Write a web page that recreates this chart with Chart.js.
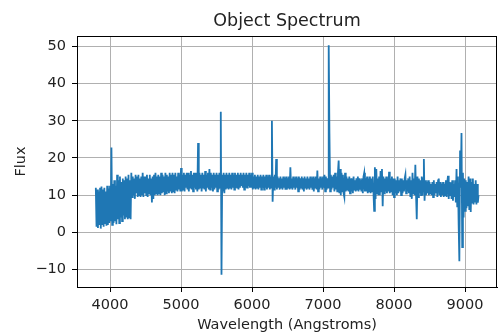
<!DOCTYPE html>
<html>
<head>
<meta charset="utf-8">
<script src="https://cdn.jsdelivr.net/npm/chart.js@4.4.1/dist/chart.umd.min.js"></script>
<style>
  html, body { margin: 0; padding: 0; background: #fff; }
  #wrap { width: 499px; height: 336px; }
</style>
</head>
<body>
<div id="wrap"><canvas id="spec" width="499" height="336"></canvas></div>
<script>
// wavelength grid (Angstroms): 3800, 3810, ... 9190
const waveStart = 3800;
const waveStep = 10;

// flux, one row per 100 Angstroms
const flux = [
  12, 1.5, 11.5, 1.2, 11, 2, 12, 1, 12.3, 2.2,          // 3800
  11.5, 1.5, 12, 2.5, 11, 1.8, 12.5, 2, 11.8, 2.5,      // 3900
  12.5, 3, 22.8, 2, 13, 2.5, 14, 3, 12.5, 2.2,          // 4000
  15.5, 3.5, 14, 2.5, 15, 4, 13.5, 3, 14.5, 4.5,        // 4100
  14, 3.5, 15, 4, 14.5, 3.5, 15.5, 4, 14, 3.5,          // 4200
  16, 9.5, 15, 10, 14.5, 9, 15.5, 10.5, 15, 9.5,        // 4300
  15.5, 10, 14.5, 9.5, 15, 10, 16, 9.5, 15, 10.5,       // 4400
  15, 10, 15.5, 9.5, 14.5, 10.5, 15.5, 10, 14.5, 8,     // 4500
  15, 9, 15.5, 10, 16, 10.5, 15, 10, 15.5, 10.5,        // 4600
  15, 10, 16, 10.5, 15.5, 11, 15, 10, 16, 10.5,         // 4700
  15.5, 11, 15, 10.5, 16, 11, 15.5, 10.5, 16, 11,       // 4800
  15.5, 10.5, 16, 11.5, 15, 11, 16, 11.5, 15.5, 11,     // 4900
  17.3, 11, 15.5, 11.5, 16, 11, 15.5, 12, 16, 11.5,     // 5000
  16, 11, 15.5, 12, 16.5, 11.5, 15.5, 11, 16, 12,       // 5100
  16, 11.5, 15.5, 11, 24, 11.5, 16, 12, 15.5, 11,       // 5200
  16, 12, 15.5, 11.5, 16.5, 11, 15.5, 12, 16, 11.5,     // 5300
  17, 11.5, 16, 12, 15.5, 11, 16, 11.5, 15.5, 12,       // 5400
  16, 11, 15.5, 11.5, 16, 12, 32.4, -11.4, 15.5, 11,    // 5500
  16, 10.5, 15.5, 11.5, 16, 12, 15.5, 11.5, 16, 12,     // 5600
  15.5, 11.5, 16, 12, 15.5, 11.5, 16, 12, 15.5, 12,     // 5700
  16, 11.5, 15.5, 12, 16, 12.5, 15.5, 12, 16, 11.5,     // 5800
  15.5, 12, 16, 12, 15.5, 12.5, 16, 12, 15.5, 12,       // 5900
  16, 11.5, 15, 12, 15.5, 11.5, 15, 12, 15.5, 11.5,     // 6000
  15, 12, 15.5, 11.5, 15, 12, 15.5, 11.5, 15, 12,       // 6100
  15.5, 11.5, 15, 12, 15.5, 11.5, 15, 12, 30, 8.2,      // 6200
  15, 11.5, 15.5, 12, 19.7, 11.5, 15, 12, 14.5, 11.5,   // 6300
  15, 12, 14.5, 11.5, 15, 12, 14.5, 11.5, 15, 11.5,     // 6400
  14.5, 12, 15, 11.5, 17.5, 12, 14.5, 11.5, 15, 12,     // 6500
  14.5, 11.5, 15, 12, 14.5, 11, 15, 11.5, 14.5, 12,     // 6600
  15, 11.5, 14.5, 11, 15, 12, 14.5, 11.5, 15, 12,       // 6700
  14.5, 11.5, 15, 12, 14.5, 11.5, 15, 11, 14.5, 12,     // 6800
  15, 11.5, 16.6, 11, 14.5, 11.5, 15, 12, 14.5, 11.5,   // 6900
  15, 12, 15.5, 11, 15, 11.5, 14.5, 12, 50.3, 26.7,     // 7000
  11, 15.5, 11.5, 15, 12, 15.5, 11, 16, 11.5, 15,       // 7100
  11, 16, 19.3, 10.5, 17, 10, 16, 11, 15.5, 10.5,       // 7200
  9.5, 16, 11, 15, 11.5, 14.5, 11, 15, 10.5, 14.5,      // 7300
  11, 14.5, 10.5, 15, 11.5, 14, 11, 14.5, 11.5, 15,     // 7400
  11, 14.5, 11.5, 14, 11, 14.5, 10.5, 15, 16, 11,       // 7500
  14.5, 11, 15, 10.5, 14.5, 11, 15, 10.5, 14.5, 11,     // 7600
  15, 11, 5.8, 17.5, 9, 17, 10.5, 14.5, 10, 15,         // 7700
  10, 16.5, 11, 17, 7, 15, 10.5, 14.5, 11, 15,          // 7800
  10.5, 14.5, 11, 16.3, 10.5, 14.5, 11, 15, 10, 14.5,   // 7900
  9.5, 14.5, 10.5, 14, 10, 15, 10.5, 14, 11, 14.5,      // 8000
  10, 14.5, 10.5, 14, 11, 14.5, 15.5, 10.5, 14, 11,     // 8100
  14.5, 10.5, 15, 9.5, 14, 9, 16, 10.5, 14.5, 10,       // 8200
  18.2, 10, 3.5, 15, 9.5, 14.5, 10.5, 14, 10, 15,       // 8300
  10, 14.5, 19.7, 8.5, 14, 10, 13.5, 10.5, 14, 10,      // 8400
  13.5, 10.5, 13, 10, 13.5, 9.5, 14, 10, 13, 10.5,      // 8500
  13.5, 9.5, 14, 14.5, 10, 13.5, 9.5, 13, 10, 13.5,     // 8600
  9.5, 13, 10, 14, 9.5, 13.5, 15.2, 9, 13.5, 10,        // 8700
  13.5, 9, 14, 8.5, 13, 9.5, 14, 8, 17, 7,              // 8800
  15, 2, -7.8, 22, 12, 26.7, -4, 16, 4, 14.5,           // 8900
  5.8, 14, 6.5, 13.5, 7, 15, 6, 14.5, 5.5, 13.5,        // 9000
  8, 14.5, 7.5, 13, 8, 14, 7.5, 13, 8, 10               // 9100
];

const xTicks = [4000, 5000, 6000, 7000, 8000, 9000];
const yTicks = [-10, 0, 10, 20, 30, 40, 50];

const points = flux.map((f, i) => ({ x: waveStart + i * waveStep, y: f }));

const textColor = "#222";
const fontFamily = "'DejaVu Sans', sans-serif";
const font = { family: fontFamily, size: 14.5 };
const tickLabel = v => String(v).replace("-", "\u2212");

// title centred over the plot area, and the black box round it
const frame = {
  id: "frame",
  afterDraw(chart) {
    const { ctx, chartArea: a } = chart;
    ctx.save();
    ctx.strokeStyle = "#000";
    ctx.lineWidth = 1;
    ctx.strokeRect(a.left + 0.5, a.top + 0.5, a.right - a.left - 1, a.bottom - a.top);
    ctx.fillStyle = textColor;
    ctx.font = "17.5px " + fontFamily;
    ctx.textAlign = "center";
    ctx.textBaseline = "alphabetic";
    ctx.fillText("Object Spectrum", (a.left + a.right) / 2, 26);
    ctx.restore();
  }
};

new Chart(document.getElementById("spec"), {
  type: "line",
  data: {
    datasets: [{
      data: points,
      borderColor: "#1f77b4",
      borderWidth: 1.8,
      pointRadius: 0,
      tension: 0,
      fill: false
    }]
  },
  options: {
    responsive: false,
    animation: false,
    events: [],
    layout: { padding: { left: 0, right: 2, top: 36, bottom: 0 } },
    plugins: {
      legend: { display: false },
      tooltip: { enabled: false }
    },
    scales: {
      x: {
        type: "linear",
        min: 3535,
        max: 9450,
        afterBuildTicks: s => { s.ticks = xTicks.map(v => ({ value: v })); },
        afterFit: s => { s.height = 49; },
        ticks: { color: textColor, font: font, padding: 5, maxRotation: 0, callback: tickLabel },
        grid: { color: "#b0b0b0", lineWidth: 1, tickLength: 5, tickColor: "#000" },
        border: { color: "#000", width: 1 },
        title: {
          display: true,
          text: "Wavelength (Angstroms)",
          color: textColor,
          font: font,
          padding: { top: 0, bottom: 2 }
        }
      },
      y: {
        min: -14.7,
        max: 52.8,
        afterBuildTicks: s => { s.ticks = yTicks.map(v => ({ value: v })); },
        afterFit: s => { s.width = 77; },
        ticks: { color: textColor, font: font, padding: 6, callback: tickLabel },
        grid: { color: "#b0b0b0", lineWidth: 1, tickLength: 5, tickColor: "#000" },
        border: { color: "#000", width: 1 },
        title: {
          display: true,
          text: "Flux",
          color: textColor,
          font: font,
          padding: { top: 13, bottom: 0 }
        }
      }
    }
  },
  plugins: [frame]
});
</script>
</body>
</html>
